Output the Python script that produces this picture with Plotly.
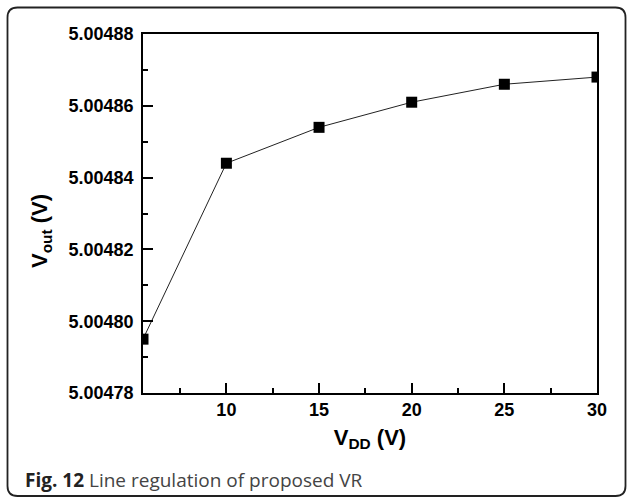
import plotly.graph_objects as go

vdd = [5.5, 10, 15, 20, 25, 30]
vout = [5.004795, 5.004844, 5.004854, 5.004861, 5.004866, 5.004868]
x_ticks = [10, 15, 20, 25, 30]
y_ticks = [5.00478, 5.00480, 5.00482, 5.00484, 5.00486, 5.00488]
y_ticktext = ["5.00478", "5.00480", "5.00482", "5.00484", "5.00486", "5.00488"]

W, H = 627, 497
L, R, T, B = 143, 30, 34, 104
PW, PH = W - L - R, H - T - B

def X(px):
    return (px - L) / PW

def Y(py):
    return (H - B - py) / PH

fig = go.Figure()
fig.add_trace(go.Scatter(
    x=vdd, y=vout, mode="lines+markers",
    line=dict(color="#222", width=1),
    marker=dict(symbol="square", size=11, color="black"),
    cliponaxis=True, showlegend=False,
))

axis_font = dict(family="Liberation Sans, Arial", size=18, color="black", weight="bold")

fig.update_xaxes(
    range=[5.5, 30], tickvals=x_ticks, ticks="inside", ticklen=10, tickwidth=1.5,
    tickcolor="black", showline=True, linecolor="black", linewidth=1.5, mirror=True,
    showgrid=False, zeroline=False, tickfont=axis_font,
    minor=dict(tickvals=[7.5, 12.5, 17.5, 22.5, 27.5], ticks="inside", ticklen=5,
               tickwidth=1.5, tickcolor="black", showgrid=False),
    title=dict(text="V<sub>DD</sub> (V)", font=dict(family="Liberation Sans, Arial", size=22,
               color="black", weight="bold"), standoff=10),
)
fig.update_yaxes(
    range=[5.00478, 5.00488], tickvals=y_ticks, ticktext=y_ticktext, ticks="inside",
    ticklen=10, tickwidth=1.5, tickcolor="black", showline=True, linecolor="black",
    linewidth=1.5, mirror=True, showgrid=False, zeroline=False, tickfont=axis_font,
    ticklabelstandoff=4,
    minor=dict(tickvals=[5.00479, 5.00481, 5.00483, 5.00485, 5.00487], ticks="inside",
               ticklen=5, tickwidth=1.5, tickcolor="black", showgrid=False),
)

# y-axis title as rotated annotation
fig.add_annotation(
    x=X(41), y=Y(231), xref="paper", yref="paper", showarrow=False, textangle=-90,
    text="V<sub>out</sub> (V)", xanchor="center", yanchor="middle",
    font=dict(family="Liberation Sans, Arial", size=22, color="black", weight="bold"),
)

# caption
fig.add_annotation(
    x=X(23), y=Y(480), xref="paper", yref="paper", showarrow=False,
    xanchor="left", yanchor="middle",
    text="<b>Fig. 12</b> <span style='color:#444'>Line regulation of proposed VR</span>",
    font=dict(family="Open Sans", size=19, color="#222"),
)

# rounded outer frame
x0, x1, y0, y1, r = 7.5, 625.5, 7.5, 496.0, 10
path = (
    f"M {X(x0)},{Y(y0 + r)} Q {X(x0)},{Y(y0)} {X(x0 + r)},{Y(y0)} "
    f"L {X(x1 - r)},{Y(y0)} Q {X(x1)},{Y(y0)} {X(x1)},{Y(y0 + r)} "
    f"L {X(x1)},{Y(y1 - r)} Q {X(x1)},{Y(y1)} {X(x1 - r)},{Y(y1)} "
    f"L {X(x0 + r)},{Y(y1)} Q {X(x0)},{Y(y1)} {X(x0)},{Y(y1 - r)} Z"
)
fig.add_shape(type="path", path=path, xref="paper", yref="paper",
              line=dict(color="#222", width=1.8), layer="below")

fig.update_layout(
    width=W, height=H, margin=dict(l=L, r=R, t=T, b=B),
    paper_bgcolor="white", plot_bgcolor="white",
)

fig.write_html("out.html")
